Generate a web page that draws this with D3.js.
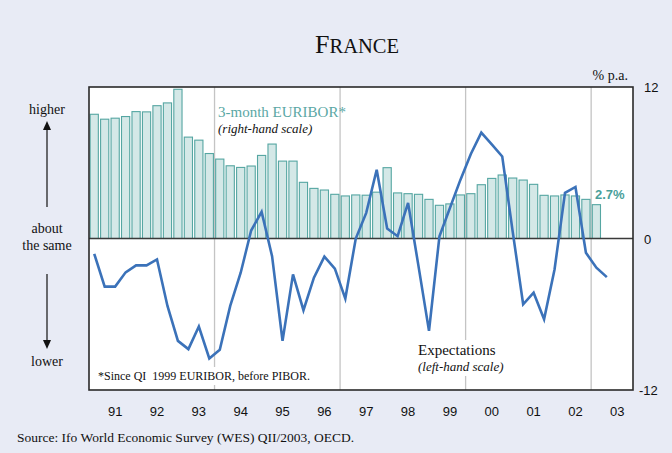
<!DOCTYPE html>
<html>
<head>
<meta charset="utf-8">
<script src="https://cdn.jsdelivr.net/npm/d3@7"></script>
<style>
  html, body { margin: 0; padding: 0; background: #e8ebf5; }
  svg { display: block; }
</style>
</head>
<body>
<div id="chart"></div>
<script>
// quarterly data, 1991 Q1 onwards
const rates = [9.84, 9.45, 9.53, 9.66, 10.05, 10.03, 10.52, 10.74, 11.82, 8.03, 7.79, 6.73,
  6.29, 5.76, 5.63, 5.74, 6.58, 7.48, 6.13, 6.13, 4.45, 3.97, 3.84, 3.50,
  3.37, 3.45, 3.43, 3.67, 5.61, 3.61, 3.55, 3.50, 3.10, 2.63, 2.74, 3.45,
  3.55, 4.26, 4.76, 5.03, 4.79, 4.63, 4.29, 3.42, 3.37, 3.45, 3.37, 3.10, 2.68];

const expectations = [-1.21, -3.81, -3.81, -2.68, -2.13, -2.13, -1.66, -5.34, -8.11, -8.76, -6.97, -9.50,
  -8.82, -5.34, -2.71, 0.63, 2.11, -1.40, -8.11, -2.84, -5.68, -3.10, -1.44, -2.39,
  -4.76, 0.0, 2.03, 5.45, 0.79, 0.18, 2.82, -2.21, -7.32, 0.18, 2.42, 4.64,
  6.7, 8.39, 7.45, 6.50, 0.55, -5.21, -4.29, -6.39, -2.45, 3.61, 4.08, -1.13, -2.31, -3.06];

const years = ['91', '92', '93', '94', '95', '96', '97', '98', '99', '00', '01', '02', '03'];
const rightTicks = [12, 0, -12];
const gridQuarters = ['94-1', '97-1', '00-1', '03-1'];

const quarters = [];
years.forEach(y => { for (let q = 1; q <= 4; q++) quarters.push(y + '-' + q); });

const W = 672, H = 453;
const plot = { left: 89, right: 633, top: 87, bottom: 390 };

const svg = d3.select('#chart').append('svg')
  .attr('width', W).attr('height', H);

svg.append('rect').attr('width', W).attr('height', H).attr('fill', '#e8ebf5');

const x = d3.scaleBand()
  .domain(quarters)
  .range([plot.left, plot.right])
  .paddingInner(0.12)
  .paddingOuter(0.06);

const yRight = d3.scaleLinear().domain([-12, 12]).range([plot.bottom, plot.top]);
const yLeft = d3.scaleLinear().domain([-12, 12]).range([plot.bottom, plot.top]);

const gap = (x.step() - x.bandwidth()) / 2;

// plot area
svg.append('rect')
  .attr('x', plot.left).attr('y', plot.top)
  .attr('width', plot.right - plot.left).attr('height', plot.bottom - plot.top)
  .attr('fill', '#fff');

// vertical grid lines
svg.selectAll('.grid')
  .data(gridQuarters)
  .enter().append('line')
  .attr('x1', d => x(d) - gap).attr('x2', d => x(d) - gap)
  .attr('y1', plot.top).attr('y2', plot.bottom)
  .attr('stroke', '#c4c4c4').attr('stroke-width', 1.3);

// bars (right-hand scale)
svg.selectAll('.bar')
  .data(rates)
  .enter().append('rect')
  .attr('x', (d, i) => x(quarters[i]) + 0.5)
  .attr('y', d => yRight(d))
  .attr('width', x.bandwidth() - 1)
  .attr('height', d => yRight(0) - yRight(d))
  .attr('fill', '#d4e8e7')
  .attr('stroke', '#55a6a2')
  .attr('stroke-width', 1.1);

// zero line
svg.append('line')
  .attr('x1', plot.left).attr('x2', plot.right)
  .attr('y1', yRight(0)).attr('y2', yRight(0))
  .attr('stroke', '#3a3a3a').attr('stroke-width', 1.6);

// white boxes behind in-plot notes
svg.append('rect').attr('x', 96).attr('y', 367).attr('width', 218).attr('height', 18).attr('fill', '#fff');
svg.append('rect').attr('x', 415).attr('y', 340).attr('width', 90).attr('height', 36).attr('fill', '#fff');

// expectations line (left-hand scale)
const line = d3.line()
  .x((d, i) => x(quarters[i]) + x.bandwidth() / 2)
  .y(d => yLeft(d));

svg.append('path')
  .datum(expectations)
  .attr('d', line)
  .attr('fill', 'none')
  .attr('stroke', '#3b72b9')
  .attr('stroke-width', 2.6)
  .attr('stroke-linejoin', 'miter');

// plot frame
svg.append('rect')
  .attr('x', plot.left).attr('y', plot.top)
  .attr('width', plot.right - plot.left).attr('height', plot.bottom - plot.top)
  .attr('fill', 'none').attr('stroke', '#2a2a2a').attr('stroke-width', 1.6);

const serif = "'Liberation Serif', 'Times New Roman', serif";
const sans = "'Liberation Sans', Arial, sans-serif";

// title
const title = svg.append('text')
  .attr('x', 357).attr('y', 53)
  .attr('text-anchor', 'middle')
  .attr('font-family', serif).attr('fill', '#111');
title.append('tspan').attr('font-size', 26).text('F');
title.append('tspan').attr('font-size', 20.5).text('RANCE');

svg.append('text')
  .attr('x', 628).attr('y', 80)
  .attr('text-anchor', 'end')
  .attr('font-family', serif).attr('font-size', 14).attr('fill', '#111')
  .text('% p.a.');

// right axis labels
svg.selectAll('.rtick')
  .data(rightTicks)
  .enter().append('text')
  .attr('x', 644)
  .attr('y', d => yRight(d) + 5)
  .attr('font-family', sans).attr('font-size', 13).attr('fill', '#111')
  .attr('dx', d => d < 0 ? -5 : 0)
  .text(d => d);

// year labels, centred on the third quarter
svg.selectAll('.year')
  .data(years)
  .enter().append('text')
  .attr('x', d => x(d + '-3') + x.bandwidth() / 2)
  .attr('y', 416)
  .attr('text-anchor', 'middle')
  .attr('font-family', sans).attr('font-size', 13).attr('fill', '#111')
  .text(d => d);

// in-plot notes
svg.append('text')
  .attr('x', 218).attr('y', 117)
  .attr('font-family', serif).attr('font-size', 15).attr('fill', '#5aa7a4')
  .text('3-month EURIBOR*');
svg.append('text')
  .attr('x', 218).attr('y', 133)
  .attr('font-family', serif).attr('font-size', 13).attr('font-style', 'italic').attr('fill', '#111')
  .text('(right-hand scale)');

svg.append('text')
  .attr('x', 595).attr('y', 199)
  .attr('font-family', sans).attr('font-size', 13).attr('font-weight', 'bold').attr('fill', '#4a9f9b')
  .text('2.7%');

svg.append('text')
  .attr('x', 418).attr('y', 355)
  .attr('font-family', serif).attr('font-size', 15).attr('fill', '#111')
  .text('Expectations');
svg.append('text')
  .attr('x', 418).attr('y', 371)
  .attr('font-family', serif).attr('font-size', 13).attr('font-style', 'italic').attr('fill', '#111')
  .text('(left-hand scale)');

svg.append('text')
  .attr('x', 98).attr('y', 380)
  .attr('font-family', serif).attr('font-size', 12).attr('fill', '#111')
  .attr('xml:space', 'preserve')
  .text('*Since QI  1999 EURIBOR, before PIBOR.');

// left-hand direction labels
const leftNotes = [
  { t: 'higher', y: 114 },
  { t: 'about', y: 233 },
  { t: 'the same', y: 250 },
  { t: 'lower', y: 366 }
];
svg.selectAll('.lnote')
  .data(leftNotes)
  .enter().append('text')
  .attr('x', 47).attr('y', d => d.y)
  .attr('text-anchor', 'middle')
  .attr('font-family', serif).attr('font-size', 14).attr('fill', '#111')
  .text(d => d.t);

// arrows
svg.append('line').attr('x1', 47).attr('x2', 47).attr('y1', 207).attr('y2', 128)
  .attr('stroke', '#111').attr('stroke-width', 1.2);
svg.append('path').attr('d', 'M47,121 L43,130 L51,130 Z').attr('fill', '#111');
svg.append('line').attr('x1', 47).attr('x2', 47).attr('y1', 274).attr('y2', 342)
  .attr('stroke', '#111').attr('stroke-width', 1.2);
svg.append('path').attr('d', 'M47,349 L43,340 L51,340 Z').attr('fill', '#111');

// source
svg.append('text')
  .attr('x', 17).attr('y', 442)
  .attr('font-family', serif).attr('font-size', 13.5).attr('fill', '#111')
  .text('Source: Ifo World Economic Survey (WES) QII/2003, OECD.');
</script>
</body>
</html>
